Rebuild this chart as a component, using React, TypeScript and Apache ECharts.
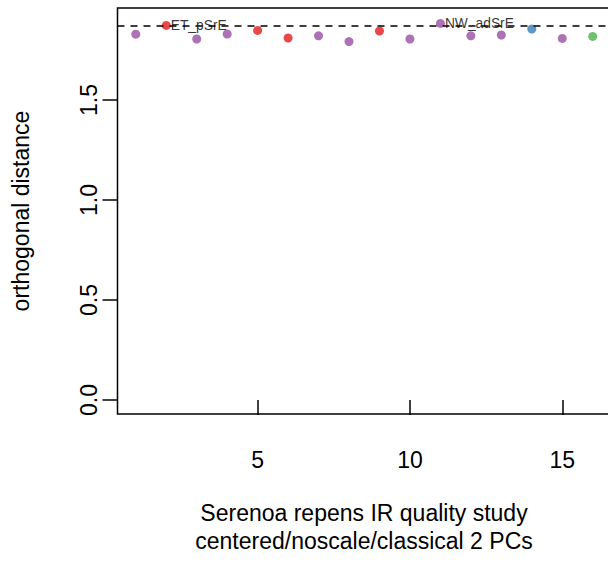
import React, { useEffect, useRef } from "react";
import * as echarts from "echarts";

const sampleIndex = [1, 2, 3, 4, 5, 6, 7, 8, 9, 10, 11, 12, 13, 14, 15, 16];
const orthDistance = [1.829, 1.873, 1.805, 1.83, 1.848, 1.81, 1.821, 1.792, 1.845, 1.805, 1.883, 1.821, 1.825, 1.855, 1.808, 1.818];
const groupOf = ["purple", "red", "purple", "purple", "red", "red", "purple", "purple", "red", "purple", "purple", "purple", "purple", "blue", "purple", "green"];
const pointLabels = ["", "ET_pSrE", "", "", "", "", "", "", "", "", "NW_adSrE", "", "", "", "", ""];
const cutoffValue = 1.8715;
const xTicks = [5, 10, 15];
const yTicks = [0, 0.5, 1, 1.5];
const xTitle = ["Serenoa repens IR quality study", "centered/noscale/classical 2 PCs"];
const yTitle = "orthogonal distance";

const groupColors: Record<string, string> = {
  purple: "#984EA3",
  red: "#E41A1C",
  blue: "#377EB8",
  green: "#4DAF4A",
};

const FONT = "Liberation Sans, Arial, Helvetica, sans-serif";
const FS = 23;

export default function App() {
  const ref = useRef<HTMLDivElement>(null);
  useEffect(() => {
    if (!ref.current) return;
    const chart = echarts.init(ref.current, null, { renderer: "svg" });
    const data = sampleIndex.map((x, i) => ({
      value: [x, orthDistance[i]],
      name: pointLabels[i],
      itemStyle: { color: groupColors[groupOf[i]] },
      label: pointLabels[i]
        ? {
            show: true,
            position: "right",
            distance: 0,
            formatter: pointLabels[i],
            fontSize: 13.8,
            fontFamily: FONT,
            color: "#000",
          }
        : { show: false },
    }));
    chart.setOption({
      animation: false,
      backgroundColor: "#fff",
      textStyle: { fontFamily: FONT },
      grid: {
        left: 117.5,
        top: 8,
        right: 3,
        bottom: 148,
        show: true,
        borderColor: "#000",
        borderWidth: 1.5,
        containLabel: false,
        outerBoundsMode: "none",
      },
      xAxis: {
        type: "value",
        min: 0.4,
        max: 16.6,
        axisLine: { show: false },
        splitLine: { show: false },
        axisTick: {
          show: true,
          customValues: xTicks,
          length: 15,
          lineStyle: { color: "#000", width: 1.5 },
        },
        axisLabel: {
          customValues: xTicks,
          fontSize: FS,
          color: "#000",
          fontFamily: FONT,
          margin: 34.5,
        },
      },
      yAxis: {
        type: "value",
        min: -0.07,
        max: 1.96,
        axisLine: { show: false },
        splitLine: { show: false },
        axisTick: {
          show: true,
          customValues: yTicks,
          length: 15,
          lineStyle: { color: "#000", width: 1.5 },
        },
        axisLabel: {
          customValues: yTicks,
          rotate: 90,
          fontSize: FS,
          color: "#000",
          fontFamily: FONT,
          margin: 17.5,
          formatter: (v: number) => v.toFixed(1),
        },
      },
      series: [
        {
          type: "scatter",
          symbol: "circle",
          symbolSize: 9,
          data,
          markLine: {
            silent: true,
            symbol: "none",
            label: { show: false },
            lineStyle: { color: "#000", width: 1.5, type: [7, 6] },
            data: [{ yAxis: cutoffValue }],
          },
        },
      ],
      graphic: [
        {
          type: "text",
          x: 21,
          y: 211,
          rotation: Math.PI / 2,
          style: {
            text: yTitle,
            fontSize: FS,
            fontFamily: FONT,
            fill: "#000",
            align: "center",
            verticalAlign: "middle",
          },
        },
        {
          type: "text",
          x: 364,
          y: 513,
          style: {
            text: xTitle[0],
            fontSize: FS,
            fontFamily: FONT,
            fill: "#000",
            align: "center",
            verticalAlign: "middle",
          },
        },
        {
          type: "text",
          x: 364,
          y: 541,
          style: {
            text: xTitle[1],
            fontSize: FS,
            fontFamily: FONT,
            fill: "#000",
            align: "center",
            verticalAlign: "middle",
          },
        },
      ],
    });
    return () => chart.dispose();
  }, []);
  return (
    <div
      style={{
        position: "absolute",
        left: 0,
        top: 0,
        width: 608,
        height: 562,
        overflow: "hidden",
        background: "#fff",
      }}
    >
      <div ref={ref} style={{ width: 614, height: 562 }} />
    </div>
  );
}
